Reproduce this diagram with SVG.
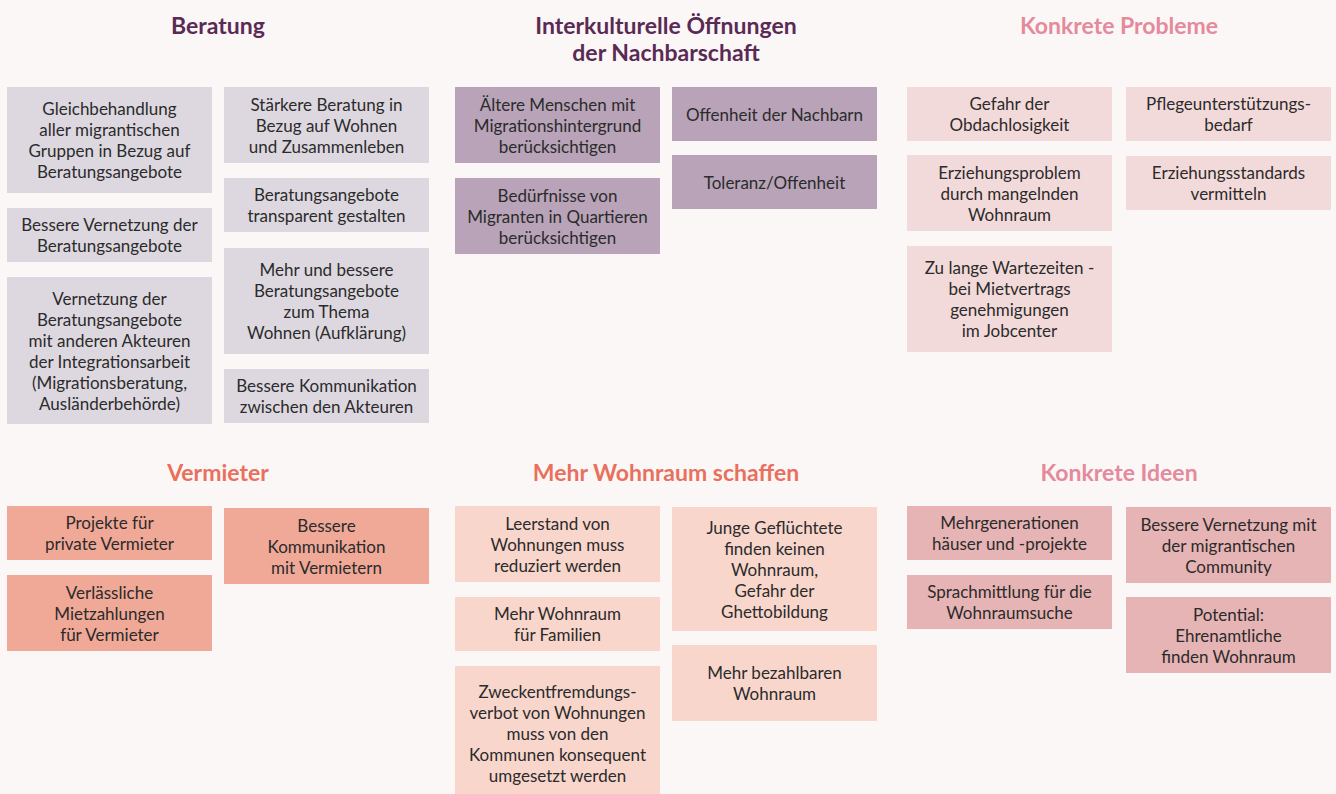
<svg xmlns="http://www.w3.org/2000/svg" width="1336" height="794" viewBox="0 0 1336 794">
<style>
.t{font-family:Lato,"Open Sans","Liberation Sans",sans-serif;font-size:17px;fill:#2b2b2b;text-anchor:middle}
.h{font-family:Lato,"Open Sans","Liberation Sans",sans-serif;font-size:23px;font-weight:bold;text-anchor:middle}
.hp{fill:#5a2a55}.hk{fill:#e48a9c}.ho{fill:#e8705d}
.b1{fill:#ddd8e0}.b2{fill:#b8a3b8}.b3{fill:#f3dada}.b4{fill:#f0a897}.b5{fill:#f8d6cc}.b6{fill:#e6b4b4}
</style>
<rect width="1336" height="794" fill="#fbf7f6"/>
<g id="titles">
<text class="h hp" x="218" y="34">Beratung</text>
<text class="h hp" x="666" y="34">Interkulturelle Öffnungen<tspan x="666" dy="27">der Nachbarschaft</tspan></text>
<text class="h hk" x="1119" y="34">Konkrete Probleme</text>
<text class="h ho" x="218" y="481">Vermieter</text>
<text class="h ho" x="666" y="481">Mehr Wohnraum schaffen</text>
<text class="h hk" x="1119" y="481">Konkrete Ideen</text>
</g>
<g id="connectors"/>
<g id="beratung">
<g id="b-1"><rect class="b1" x="7" y="87" width="205" height="106"/><text class="t" x="109.5" y="115">Gleichbehandlung<tspan x="109.5" dy="21">aller migrantischen</tspan><tspan x="109.5" dy="21">Gruppen in Bezug auf</tspan><tspan x="109.5" dy="21">Beratungsangebote</tspan></text></g>
<g id="b-2"><rect class="b1" x="7" y="208" width="205" height="54"/><text class="t" x="109.5" y="231">Bessere Vernetzung der<tspan x="109.5" dy="21">Beratungsangebote</tspan></text></g>
<g id="b-3"><rect class="b1" x="7" y="277" width="205" height="147"/><text class="t" x="109.5" y="304.5">Vernetzung der<tspan x="109.5" dy="21">Beratungsangebote</tspan><tspan x="109.5" dy="21">mit anderen Akteuren</tspan><tspan x="109.5" dy="21">der Integrationsarbeit</tspan><tspan x="109.5" dy="21">(Migrationsberatung,</tspan><tspan x="109.5" dy="21">Ausländerbehörde)</tspan></text></g>
<g id="b-4"><rect class="b1" x="224" y="87" width="205" height="76"/><text class="t" x="326.5" y="110.5">Stärkere Beratung in<tspan x="326.5" dy="21">Bezug auf Wohnen</tspan><tspan x="326.5" dy="21">und Zusammenleben</tspan></text></g>
<g id="b-5"><rect class="b1" x="224" y="178" width="205" height="54"/><text class="t" x="326.5" y="201">Beratungsangebote<tspan x="326.5" dy="21">transparent gestalten</tspan></text></g>
<g id="b-6"><rect class="b1" x="224" y="248" width="205" height="106"/><text class="t" x="326.5" y="276">Mehr und bessere<tspan x="326.5" dy="21">Beratungsangebote</tspan><tspan x="326.5" dy="21">zum Thema</tspan><tspan x="326.5" dy="21">Wohnen (Aufklärung)</tspan></text></g>
<g id="b-7"><rect class="b1" x="224" y="369" width="205" height="54"/><text class="t" x="326.5" y="392">Bessere Kommunikation<tspan x="326.5" dy="21">zwischen den Akteuren</tspan></text></g>
</g>
<g id="interkulturell">
<g id="i-1"><rect class="b2" x="455" y="87" width="205" height="76"/><text class="t" x="557.5" y="110.5">Ältere Menschen mit<tspan x="557.5" dy="21">Migrationshintergrund</tspan><tspan x="557.5" dy="21">berücksichtigen</tspan></text></g>
<g id="i-2"><rect class="b2" x="455" y="178" width="205" height="76"/><text class="t" x="557.5" y="201.5">Bedürfnisse von<tspan x="557.5" dy="21">Migranten in Quartieren</tspan><tspan x="557.5" dy="21">berücksichtigen</tspan></text></g>
<g id="i-3"><rect class="b2" x="672" y="87" width="205" height="54"/><text class="t" x="774.5" y="120.5">Offenheit der Nachbarn</text></g>
<g id="i-4"><rect class="b2" x="672" y="155" width="205" height="54"/><text class="t" x="774.5" y="188.5">Toleranz/Offenheit</text></g>
</g>
<g id="probleme">
<g id="p-1"><rect class="b3" x="907" y="87" width="205" height="54"/><text class="t" x="1009.5" y="110">Gefahr der<tspan x="1009.5" dy="21">Obdachlosigkeit</tspan></text></g>
<g id="p-2"><rect class="b3" x="907" y="155" width="205" height="76"/><text class="t" x="1009.5" y="178.5">Erziehungsproblem<tspan x="1009.5" dy="21">durch mangelnden</tspan><tspan x="1009.5" dy="21">Wohnraum</tspan></text></g>
<g id="p-3"><rect class="b3" x="907" y="246" width="205" height="106"/><text class="t" x="1009.5" y="274">Zu lange Wartezeiten -<tspan x="1009.5" dy="21">bei Mietvertrags</tspan><tspan x="1009.5" dy="21">genehmigungen</tspan><tspan x="1009.5" dy="21">im Jobcenter</tspan></text></g>
<g id="p-4"><rect class="b3" x="1126" y="87" width="205" height="54"/><text class="t" x="1228.5" y="110">Pflegeunterstützungs-<tspan x="1228.5" dy="21">bedarf</tspan></text></g>
<g id="p-5"><rect class="b3" x="1126" y="156" width="205" height="54"/><text class="t" x="1228.5" y="179">Erziehungsstandards<tspan x="1228.5" dy="21">vermitteln</tspan></text></g>
</g>
<g id="vermieter">
<g id="v-1"><rect class="b4" x="7" y="506" width="205" height="54"/><text class="t" x="109.5" y="529">Projekte für<tspan x="109.5" dy="21">private Vermieter</tspan></text></g>
<g id="v-2"><rect class="b4" x="7" y="575" width="205" height="76"/><text class="t" x="109.5" y="598.5">Verlässliche<tspan x="109.5" dy="21">Mietzahlungen</tspan><tspan x="109.5" dy="21">für Vermieter</tspan></text></g>
<g id="v-3"><rect class="b4" x="224" y="508" width="205" height="76"/><text class="t" x="326.5" y="531.5">Bessere<tspan x="326.5" dy="21">Kommunikation</tspan><tspan x="326.5" dy="21">mit Vermietern</tspan></text></g>
</g>
<g id="wohnraum">
<g id="m-1"><rect class="b5" x="455" y="506" width="205" height="76"/><text class="t" x="557.5" y="529.5">Leerstand von<tspan x="557.5" dy="21">Wohnungen muss</tspan><tspan x="557.5" dy="21">reduziert werden</tspan></text></g>
<g id="m-2"><rect class="b5" x="455" y="597" width="205" height="54"/><text class="t" x="557.5" y="620">Mehr Wohnraum<tspan x="557.5" dy="21">für Familien</tspan></text></g>
<g id="m-3"><rect class="b5" x="455" y="666" width="205" height="128"/><text class="t" x="557.5" y="698">Zweckentfremdungs-<tspan x="557.5" dy="21">verbot von Wohnungen</tspan><tspan x="557.5" dy="21">muss von den</tspan><tspan x="557.5" dy="21">Kommunen konsequent</tspan><tspan x="557.5" dy="21">umgesetzt werden</tspan></text></g>
<g id="m-4"><rect class="b5" x="672" y="507" width="205" height="124"/><text class="t" x="774.5" y="533.5">Junge Geflüchtete<tspan x="774.5" dy="21">finden keinen</tspan><tspan x="774.5" dy="21">Wohnraum,</tspan><tspan x="774.5" dy="21">Gefahr der</tspan><tspan x="774.5" dy="21">Ghettobildung</tspan></text></g>
<g id="m-5"><rect class="b5" x="672" y="645" width="205" height="76"/><text class="t" x="774.5" y="679">Mehr bezahlbaren<tspan x="774.5" dy="21">Wohnraum</tspan></text></g>
</g>
<g id="ideen">
<g id="k-1"><rect class="b6" x="907" y="506" width="205" height="54"/><text class="t" x="1009.5" y="529">Mehrgenerationen<tspan x="1009.5" dy="21">häuser und -projekte</tspan></text></g>
<g id="k-2"><rect class="b6" x="907" y="575" width="205" height="54"/><text class="t" x="1009.5" y="598">Sprachmittlung für die<tspan x="1009.5" dy="21">Wohnraumsuche</tspan></text></g>
<g id="k-3"><rect class="b6" x="1126" y="507" width="205" height="76"/><text class="t" x="1228.5" y="530.5">Bessere Vernetzung mit<tspan x="1228.5" dy="21">der migrantischen</tspan><tspan x="1228.5" dy="21">Community</tspan></text></g>
<g id="k-4"><rect class="b6" x="1126" y="597" width="205" height="76"/><text class="t" x="1228.5" y="620.5">Potential:<tspan x="1228.5" dy="21">Ehrenamtliche</tspan><tspan x="1228.5" dy="21">finden Wohnraum</tspan></text></g>
</g>
</svg>
